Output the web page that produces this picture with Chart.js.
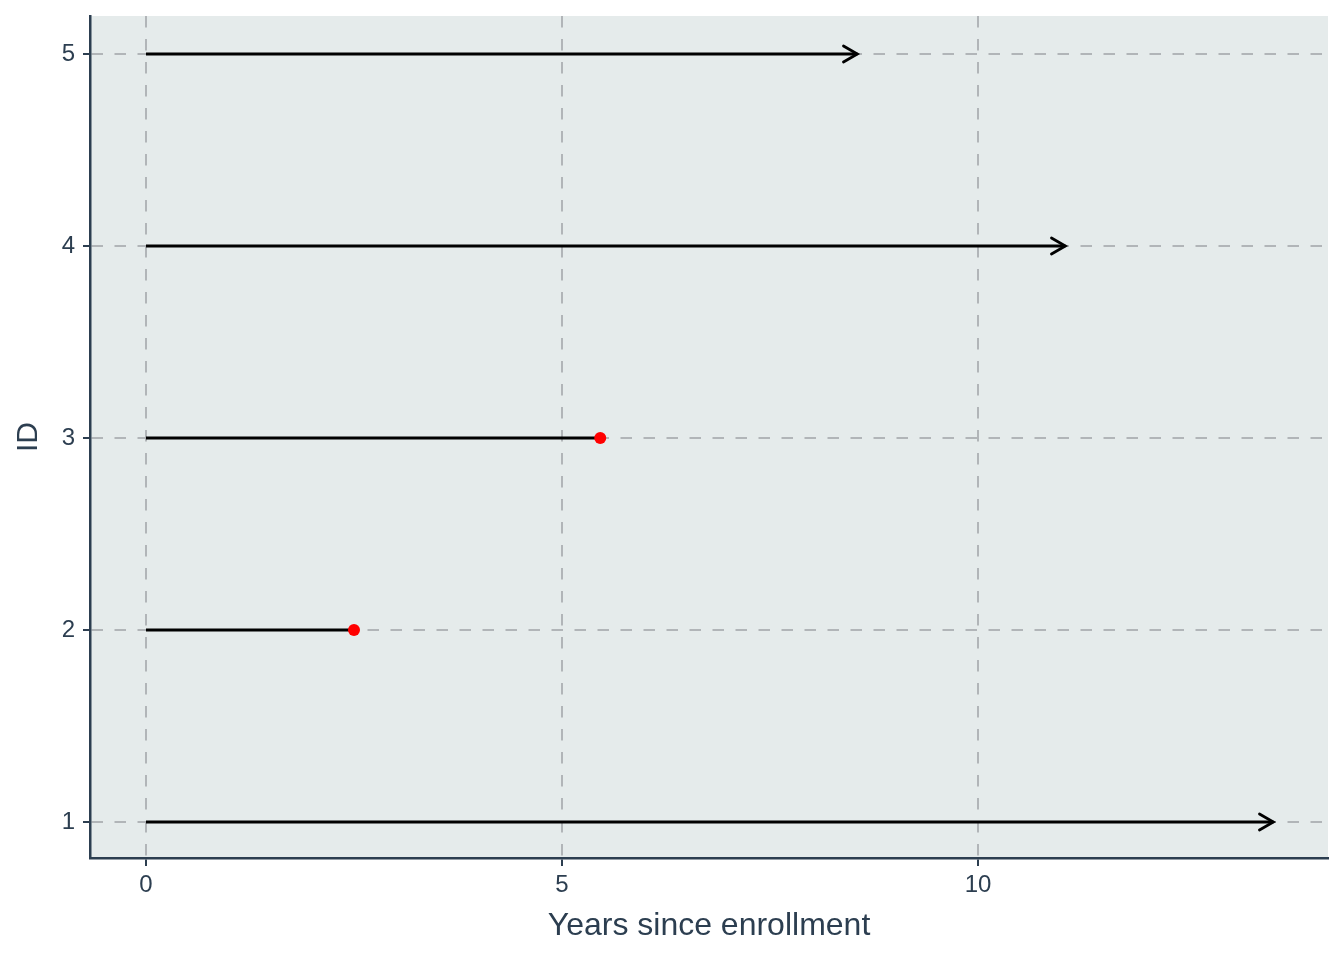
<!DOCTYPE html>
<html lang="en">

<head>
    <meta charset="UTF-8">
    <title>Follow-up time</title>
    <script src="https://cdn.jsdelivr.net/npm/chart.js"></script>
    <style>
        body { margin: 0; background: #ffffff; }
    </style>
</head>

<body>
    <canvas id="myChart" width="1344" height="960"></canvas>

<script>
    // data
    const ids = [1, 2, 3, 4, 5];
    const startYears = [0, 0, 0, 0, 0];
    const endYears = [13.55, 2.5, 5.46, 11.05, 8.55];
    const hasEvent = [false, true, true, false, false]; // red dot = event, arrow = censored
    const xTicks = [0, 5, 10];
    const yTicks = [1, 2, 3, 4, 5];

    const textColor = '#2c3e50';
    const gridColor = '#b1b5b8';

    const datasets = ids.map(function (id, i) {
        return {
            label: 'ID ' + id,
            data: [{ x: startYears[i], y: id }, { x: endYears[i], y: id }],
            showLine: true,
            borderColor: '#000000',
            borderWidth: 2.8,
            pointRadius: function (ctx) {
                return (ctx.dataIndex === 1 && hasEvent[i]) ? 6 : 0;
            },
            pointBackgroundColor: '#ff0000',
            pointBorderWidth: 0
        };
    });

    // grey panel behind the plot
    const panelBg = {
        id: 'panelBg',
        beforeDraw(chart) {
            const a = chart.chartArea;
            const ctx = chart.ctx;
            ctx.save();
            ctx.fillStyle = '#e5ebeb';
            ctx.fillRect(a.left, a.top, a.right - a.left, a.bottom - a.top);
            ctx.restore();
        }
    };

    // open arrowheads at the end of censored lines
    const arrowHeads = {
        id: 'arrowHeads',
        afterDatasetsDraw(chart) {
            const ctx = chart.ctx;
            ctx.save();
            ctx.strokeStyle = '#000000';
            ctx.lineWidth = 2.8;
            ctx.lineCap = 'round';
            ctx.lineJoin = 'miter';
            ids.forEach(function (id, i) {
                if (hasEvent[i]) return;
                const pts = chart.getDatasetMeta(i).data;
                const p0 = pts[0], p1 = pts[1];
                const ang = Math.atan2(p1.y - p0.y, p1.x - p0.x);
                const len = 16, spread = Math.PI / 6;
                ctx.beginPath();
                ctx.moveTo(p1.x - len * Math.cos(ang - spread), p1.y - len * Math.sin(ang - spread));
                ctx.lineTo(p1.x, p1.y);
                ctx.lineTo(p1.x - len * Math.cos(ang + spread), p1.y - len * Math.sin(ang + spread));
                ctx.stroke();
            });
            ctx.restore();
        }
    };

    const config = {
        type: 'scatter',
        data: { datasets: datasets },
        options: {
            responsive: false,
            animation: false,
            layout: { padding: { left: 0, right: 16, top: 16, bottom: 0 } },
            plugins: {
                legend: { display: false },
                tooltip: { enabled: false }
            },
            scales: {
                x: {
                    type: 'linear',
                    min: -0.673,
                    max: 14.207,
                    afterBuildTicks: function (scale) {
                        scale.ticks = xTicks.map(function (v) { return { value: v }; });
                    },
                    afterFit: function (scale) {
                        scale.height = 102;
                        scale.paddingLeft = 0;
                        scale.paddingRight = 0;
                    },
                    grid: {
                        color: gridColor,
                        lineWidth: 2,
                        tickColor: textColor,
                        tickWidth: 2,
                        tickLength: 8,
                        tickBorderDash: []
                    },
                    border: { display: true, color: textColor, width: 2.5, dash: [11.5, 11.5] },
                    ticks: {
                        color: textColor,
                        padding: 5,
                        font: { family: '"Liberation Sans", Arial, sans-serif', size: 24 }
                    },
                    title: {
                        display: true,
                        text: 'Years since enrollment',
                        color: textColor,
                        padding: { top: 0, bottom: 15 },
                        font: { family: '"Liberation Sans", Arial, sans-serif', size: 32 }
                    }
                },
                y: {
                    type: 'linear',
                    min: 0.8125,
                    max: 5.198,
                    afterBuildTicks: function (scale) {
                        scale.ticks = yTicks.map(function (v) { return { value: v }; });
                    },
                    afterFit: function (scale) {
                        scale.width = 90;
                        scale.paddingTop = 0;
                        scale.paddingBottom = 0;
                    },
                    grid: {
                        color: gridColor,
                        lineWidth: 2,
                        tickColor: textColor,
                        tickWidth: 2,
                        tickLength: 7,
                        tickBorderDash: []
                    },
                    border: { display: true, color: textColor, width: 2.5, dash: [11.5, 11.5] },
                    ticks: {
                        color: textColor,
                        padding: 8,
                        font: { family: '"Liberation Sans", Arial, sans-serif', size: 24 }
                    },
                    title: {
                        display: true,
                        text: 'ID',
                        color: textColor,
                        padding: { top: 11, bottom: 0 },
                        font: { family: '"Liberation Sans", Arial, sans-serif', size: 30 }
                    }
                }
            }
        },
        plugins: [panelBg, arrowHeads]
    };

    const myChart = new Chart(document.getElementById('myChart'), config);
</script>
</body>

</html>
